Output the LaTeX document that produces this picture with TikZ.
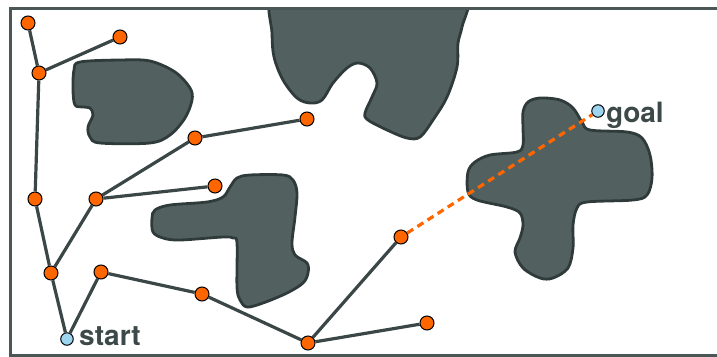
\documentclass[tikz,border=0pt]{standalone}
\usepackage{fontspec}
\setmainfont{TeX Gyre Heros}
\definecolor{obsfill}{HTML}{526160}
\definecolor{obsline}{HTML}{2F3B3A}
\definecolor{framec}{HTML}{4B5756}
\definecolor{edgec}{HTML}{3B4746}
\definecolor{orangec}{HTML}{FF6600}
\definecolor{bluec}{HTML}{9DD5F0}
\definecolor{textc}{HTML}{3D4948}
\tikzset{
  obstacle/.style={fill=obsfill, draw=obsline, line width=2.8pt},
  treenode/.style={circle, fill=orangec, draw=black, line width=1pt, minimum size=14pt, inner sep=0pt},
  endnode/.style={circle, fill=bluec, draw=black, line width=1pt, minimum size=12.5pt, inner sep=0pt},
  treeedge/.style={draw=edgec, line width=3.2pt},
  newedge/.style={draw=orangec, line width=3.2pt, dash pattern=on 7pt off 5pt},
  lbl/.style={font=\fontsize{28}{30}\selectfont\bfseries, text=textc, inner sep=0pt}
}
\begin{document}
\begin{tikzpicture}[x=1pt, y=-1pt]
\useasboundingbox (0,0) rectangle (717,356);
\clip (0,0) rectangle (717,356);
% obstacles
\draw[obstacle] plot[smooth cycle, tension=0.55] coordinates {
 (80,62) (120,60) (150,61) (175,72) (190,88) (192,100) (185,118) (170,135)
 (150,143) (100,143) (90,137) (88,127) (93,115) (90,108) (83,107) (75,105) (73,90) (74,70)};
\begin{scope}
\clip (0,9) rectangle (717,356);
\draw[obstacle] plot[smooth cycle, tension=0.55] coordinates {
 (272,-4) (272,33) (274,57) (283,80) (297,98) (310,103) (322,100) (333,83) (347,68)
 (358,63) (370,68) (377,83) (372,97) (365,113) (368,120) (387,130) (407,138)
 (420,137) (433,120) (447,97) (457,67) (458,43) (462,27) (467,-4) (420,-6) (320,-6)};
\end{scope}
\draw[obstacle] plot[smooth cycle, tension=0.55] coordinates {
 (152,218) (155,210) (170,205) (207,202) (223,197) (230,187) (237,178) (250,175)
 (283,175) (293,180) (297,193) (295,217) (292,243) (295,255) (307,263) (308,273)
 (303,283) (287,293) (263,303) (247,307) (240,300) (237,287) (237,243) (233,238)
 (223,237) (180,240) (163,238) (153,232)};
\draw[obstacle] plot[smooth cycle, tension=0.55] coordinates {
 (523,112) (528,102) (540,98) (560,100) (573,108) (582,122) (590,130) (627,132)
 (642,138) (650,155) (652,178) (647,195) (633,200) (587,202) (577,208) (573,225)
 (573,248) (568,268) (553,278) (540,278) (523,268) (515,252) (520,238) (523,225)
 (520,213) (507,207) (477,200) (468,192) (468,172) (475,162) (490,155) (517,152)
 (523,145) (523,128)};
% frame
\draw[draw=framec, line width=3pt] (10,8) rectangle (730,355);
% nodes
\node[treenode] (n1) at (28,23) {};
\node[treenode] (n2) at (120,37) {};
\node[treenode] (n3) at (39,73) {};
\node[treenode] (n4) at (195,138) {};
\node[treenode] (n5) at (307,119) {};
\node[treenode] (n6) at (35,199) {};
\node[treenode] (n7) at (96,199) {};
\node[treenode] (n8) at (215,186) {};
\node[treenode] (n9) at (51,273) {};
\node[treenode] (n10) at (101,272) {};
\node[treenode] (n11) at (202,294) {};
\node[treenode] (n12) at (308,343) {};
\node[treenode] (n13) at (401,237) {};
\node[treenode] (n14) at (427,323) {};
\node[endnode] (start) at (67,339) {};
\node[endnode] (goal) at (598,111) {};
\node[lbl, anchor=base west] (startlbl) at (79,345) {start};
\node[lbl, anchor=base west] (goallbl) at (606,122) {goal};
% edges
\draw[treeedge] (n1) -- (n3);
\draw[treeedge] (n3) -- (n2);
\draw[treeedge] (n3) -- (n6);
\draw[treeedge] (n6) -- (n9);
\draw[treeedge] (n9) -- (start);
\draw[treeedge] (n9) -- (n7);
\draw[treeedge] (n7) -- (n4);
\draw[treeedge] (n4) -- (n5);
\draw[treeedge] (n7) -- (n8);
\draw[treeedge] (start) -- (n10);
\draw[treeedge] (n10) -- (n11);
\draw[treeedge] (n11) -- (n12);
\draw[treeedge] (n12) -- (n14);
\draw[treeedge] (n12) -- (n13);
\draw[newedge] (n13) -- (goal);
\end{tikzpicture}
\end{document}
